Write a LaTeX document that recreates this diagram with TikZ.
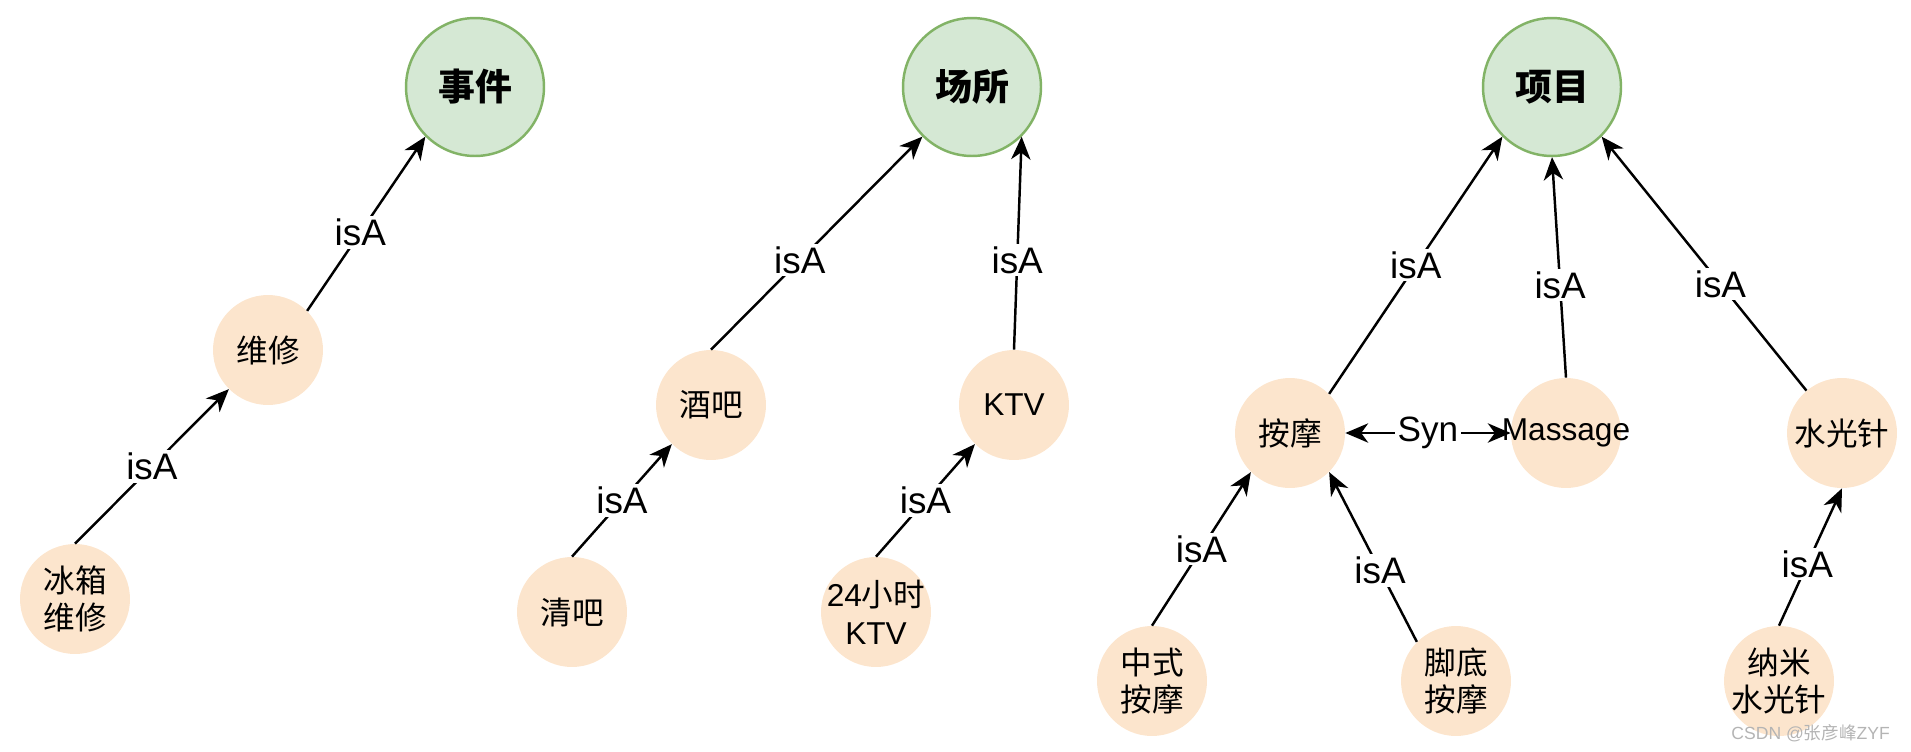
\documentclass[tikz,border=0pt]{standalone}
\usepackage{fontspec}
\setmainfont{Liberation Sans}
\newfontfamily\cjk{Noto Sans CJK SC}
\usetikzlibrary{arrows.meta}
\definecolor{cgreenfill}{HTML}{D5E8D4}
\definecolor{cgreenline}{HTML}{82B366}
\definecolor{corange}{HTML}{FCE5CD}
\definecolor{cmarkgrey}{HTML}{B4B4B4}
\tikzset{
  every picture/.style={x=0.02cm, y=-0.02cm},
  root/.style={circle, draw=cgreenline, fill=cgreenfill, line width=1.4pt, minimum size=2.76cm, inner sep=0pt, font=\fontsize{21}{25}\selectfont\cjk\bfseries},
  ent/.style={circle, fill=corange, minimum size=2.2cm, inner sep=-0.4cm, align=center, font=\fontsize{18}{21.5}\selectfont\cjk},
  arrow/.style={->, >={Stealth[length=13pt, width=11pt, inset=4pt]}, line width=1.4pt},
  rel/.style={fill=white, inner sep=1.5pt, font=\fontsize{21}{24}\selectfont},
  wmark/.style={text=cmarkgrey, font=\fontsize{10}{12}\selectfont},
}
\begin{document}
\begin{tikzpicture}
  \useasboundingbox (0,0) rectangle (1911,751);
  % top concepts
  \node[root] (sj) at (475,87) {事件};
  \node[root] (cs) at (972,87) {场所};
  \node[root] (xm) at (1552,87) {项目};
  % entities
  \node[ent] (wx) at (268,350) {维修};
  \node[ent] (bx) at (75,599) {冰箱\\维修};
  \node[ent] (jb) at (711,405) {酒吧};
  \node[ent] (qb) at (572,612) {清吧};
  \node[ent] (ktv) at (1014,405) {\rmfamily KTV};
  \node[ent] (ktvd) at (876,612) {{\rmfamily 24}小时\\\rmfamily KTV};
  \node[ent] (am) at (1290,433) {按摩};
  \node[ent] (ms) at (1566,433) {\rmfamily Massage};
  \node[ent] (sg) at (1842,433) {水光针};
  \node[ent] (zs) at (1152,681) {中式\\按摩};
  \node[ent] (jd) at (1456,681) {脚底\\按摩};
  \node[ent] (nm) at (1779,681) {纳米\\水光针};
  % isA relations
  \foreach \a/\b/\p in {bx.90/wx.225/0.5, wx.45/sj.225/0.45, qb.90/jb.225/0.5,
      jb.90/cs.225/0.42, ktv.90/cs.315/0.42, ktvd.90/ktv.225/0.5,
      zs.90/am.225/0.5, am.45/xm.225/0.5, ms.90/xm.270/0.42,
      sg.130/xm.315/0.42, jd.135/am.315/0.42, nm.90/sg.270/0.45}
    \draw[arrow] (\a) -- node[rel, pos=\p] {isA} (\b);
  \draw[arrow, <->] (am.east) -- node[rel, font=\fontsize{20}{24}\selectfont] {Syn} (ms.west);
  \node[wmark, anchor=east] (csdn) at (1896,733) {CSDN @{\cjk 张彦峰}ZYF};
\end{tikzpicture}
\end{document}
